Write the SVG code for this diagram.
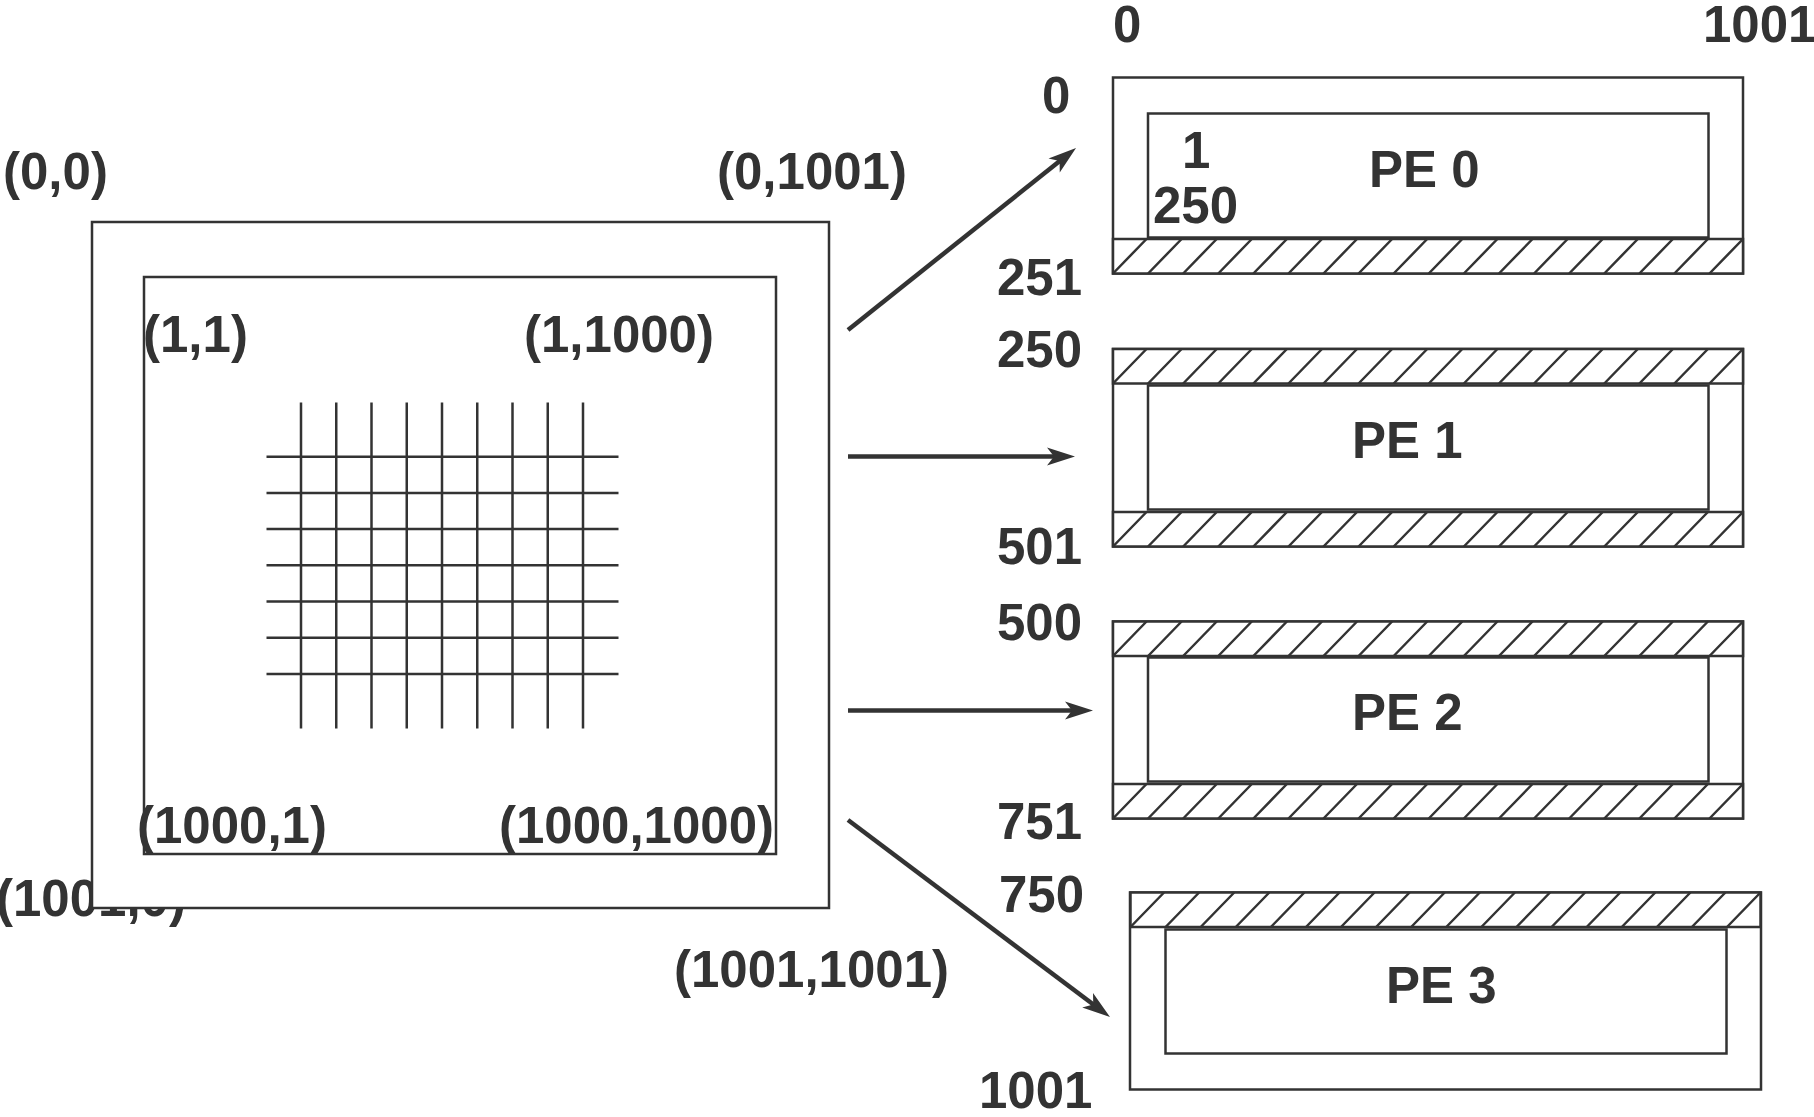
<svg xmlns="http://www.w3.org/2000/svg" xmlns:xlink="http://www.w3.org/1999/xlink" width="1814" height="1117" viewBox="0 0 1814 1117">
<style>
.t{font-family:"Liberation Sans",Arial,sans-serif;font-weight:bold;font-size:51px;fill:#333}
.box{fill:#fff;stroke:#333;stroke-width:2.5}
.ln{stroke:#333;stroke-width:2.5;fill:none}
.arr{stroke:#333;stroke-width:4.5;fill:none;marker-end:url(#ah)}
</style>
<defs>
<marker id="ah" markerUnits="userSpaceOnUse" markerWidth="40" markerHeight="30" viewBox="-20 -15 40 30" refX="0" refY="0" orient="auto" overflow="visible">
<path d="M10,0 L-18,-9 L-11,0 L-18,9 Z" fill="#333"/>
</marker>
<g id="hatch">
<rect x="0" y="0" width="630" height="34.5" class="box"/>
<path class="ln" d="M0,34.5L33.5,0M35.1,34.5L68.6,0M70.2,34.5L103.7,0M105.3,34.5L138.8,0M140.4,34.5L173.9,0M175.5,34.5L209,0M210.5,34.5L244,0M245.6,34.5L279.1,0M280.7,34.5L314.2,0M315.8,34.5L349.3,0M350.9,34.5L384.4,0M386,34.5L419.5,0M421.1,34.5L454.6,0M456.2,34.5L489.7,0M491.3,34.5L524.8,0M526.4,34.5L559.9,0M561.4,34.5L594.9,0M596.5,34.5L630,0"/>
</g>
</defs>

<g id="domain">
<text class="t" x="3" y="189">(0,0)</text>
<text class="t" x="717" y="189">(0,1001)</text>
<text class="t" x="-4" y="916">(1001,0)</text>
<rect class="box" x="92" y="222" width="737" height="686"/>
<rect class="box" x="144" y="277" width="632" height="577"/>
<g id="grid" class="ln">
<path d="M301,402.5V728.5M336.25,402.5V728.5M371.5,402.5V728.5M406.75,402.5V728.5M442,402.5V728.5M477.25,402.5V728.5M512.5,402.5V728.5M547.75,402.5V728.5M583,402.5V728.5"/>
<path d="M266.5,456.7H618.5M266.5,492.9H618.5M266.5,529.1H618.5M266.5,565.3H618.5M266.5,601.5H618.5M266.5,637.7H618.5M266.5,673.9H618.5"/>
</g>
<text class="t" x="143" y="352">(1,1)</text>
<text class="t" x="524" y="352">(1,1000)</text>
<text class="t" x="137" y="843">(1000,1)</text>
<text class="t" x="499" y="843">(1000,1000)</text>
<text class="t" x="674" y="987">(1001,1001)</text>
</g>

<g id="axis-labels">
<text class="t" x="1113" y="42">0</text>
<text class="t" x="1703" y="42">1001</text>
</g>

<g id="pe0">
<rect class="box" x="1113" y="77.5" width="630" height="196"/>
<rect class="box" x="1148" y="113.5" width="560.5" height="124"/>
<use xlink:href="#hatch" x="1113" y="239"/>
<text class="t" x="1042" y="113">0</text>
<text class="t" x="1182" y="168">1</text>
<text class="t" x="1153" y="223">250</text>
<text class="t" x="1369" y="187">PE 0</text>
<text class="t" x="997" y="295">251</text>
</g>

<g id="pe1">
<rect class="box" x="1113" y="349" width="630" height="197.5"/>
<use xlink:href="#hatch" x="1113" y="349"/>
<rect class="box" x="1148" y="385.5" width="560.5" height="124"/>
<use xlink:href="#hatch" x="1113" y="512"/>
<text class="t" x="997" y="367">250</text>
<text class="t" x="1352" y="458">PE 1</text>
<text class="t" x="997" y="564">501</text>
</g>

<g id="pe2">
<rect class="box" x="1113" y="621.5" width="630" height="197"/>
<use xlink:href="#hatch" x="1113" y="621.5"/>
<rect class="box" x="1148" y="657.5" width="560.5" height="124"/>
<use xlink:href="#hatch" x="1113" y="784"/>
<text class="t" x="997" y="640">500</text>
<text class="t" x="1352" y="730">PE 2</text>
<text class="t" x="997" y="839">751</text>
</g>

<g id="pe3">
<rect class="box" x="1130" y="892.5" width="631" height="197"/>
<use xlink:href="#hatch" x="1130.5" y="892.5"/>
<rect class="box" x="1165.5" y="929.5" width="561" height="124"/>
<text class="t" x="999" y="912">750</text>
<text class="t" x="1386" y="1003">PE 3</text>
<text class="t" x="979" y="1108">1001</text>
</g>

<g id="connectors">
<line class="arr" x1="848" y1="330" x2="1068.2" y2="154.2"/>
<line class="arr" x1="848" y1="456.5" x2="1065" y2="456.5"/>
<line class="arr" x1="848" y1="710.5" x2="1083" y2="710.5"/>
<line class="arr" x1="848" y1="820" x2="1102" y2="1011"/>
</g>
</svg>
